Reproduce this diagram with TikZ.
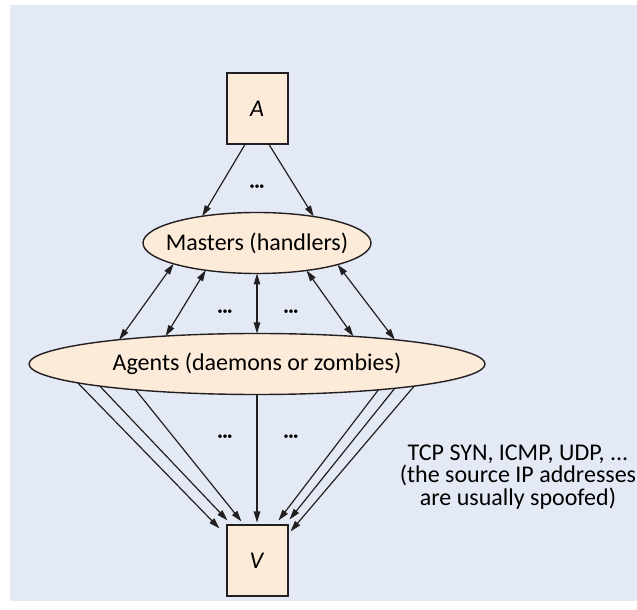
\documentclass[tikz,border=0pt]{standalone}
\usepackage{fontspec}
\setmainfont{Carlito}
\usetikzlibrary{shapes.geometric, positioning, arrows.meta}
\definecolor{bgblue}{RGB}{228,234,245}
\definecolor{peach}{RGB}{253,235,217}
\definecolor{inkline}{RGB}{35,31,32}

\begin{document}
\begin{tikzpicture}[x=1pt, y=1pt, font=\fontsize{24}{22.5}\selectfont,
	>={Triangle[length=11pt,width=6.5pt]},
	hostbox/.style={draw=inkline, line width=2pt, fill=peach, minimum width=61pt, minimum height=71pt, inner sep=0pt, outer sep=0pt},
	group/.style={ellipse, draw=inkline, line width=1.4pt, fill=peach, minimum height=61pt, inner sep=0pt, outer sep=0pt},
	flow/.style={inkline, line width=1.2pt},
	dots/.style={font=\fontsize{10}{10}\selectfont}]
		\useasboundingbox (0,0) rectangle (637,610);
		\fill[bgblue] (10,9) rectangle (637,605);
		
		\node[hostbox] (a) at (257,501) {\textit{A}};
		\node[group, minimum width=228pt] (masters) [below=68pt of a] {\makebox[0pt]{Masters (handlers)}};
		\node[group, minimum width=456pt] (agents) [below=60pt of masters] {\makebox[0pt]{Agents (daemons or zombies)}};
		\node[hostbox] (v) [below=131pt of agents] {\textit{V}};
		
		\node[dots] (d1) at (257,423) {\textbullet\textbullet\textbullet};
		\node[dots] (d2) at (225,298) {\textbullet\textbullet\textbullet};
		\node[dots] (d3) at (291,298) {\textbullet\textbullet\textbullet};
		\node[dots] (d4) at (225,173) {\textbullet\textbullet\textbullet};
		\node[dots] (d5) at (291,173) {\textbullet\textbullet\textbullet};
		\node[align=center] (spoof) at (518,133) {TCP SYN, ICMP, UDP, ...\\(the source IP addresses\\are usually spoofed)};
		
		\path[->, flow]
		([xshift=-12pt]a.south) edge (masters.154.6)
		([xshift=12pt]a.south) edge (masters.25.4);
		
		\path[<->, flow]
		(masters.194.5) edge (agents.170)
		(masters.208.7) edge (agents.163.3)
		(masters.south) edge (agents.north)
		(masters.331.3) edge (agents.16.7)
		(masters.345.5) edge (agents.10);
		
		\path[->, flow]
		(agents.186.5) edge ([xshift=-7pt,yshift=-3pt]v.north west)
		(agents.188.7) edge ([xshift=1pt,yshift=5pt]v.north west)
		(agents.192.2) edge ([xshift=15pt,yshift=4pt]v.north west)
		(agents.south) edge ([yshift=3pt]v.north)
		(agents.348.6) edge ([xshift=-9pt,yshift=5pt]v.north east)
		(agents.350.6) edge ([xshift=2pt,yshift=6pt]v.north east)
		(agents.352.3) edge ([xshift=3pt,yshift=-6pt]v.north east);
	\end{tikzpicture}
\end{document}
